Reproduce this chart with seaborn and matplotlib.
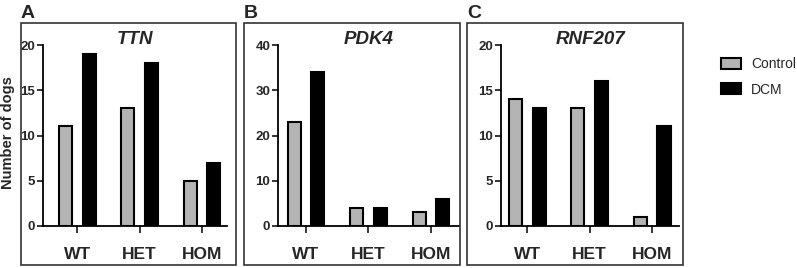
import matplotlib
matplotlib.use("Agg")
import matplotlib.pyplot as plt
import pandas as pd
import seaborn as sns
from matplotlib.patches import Rectangle

genotypes = ["WT", "HET", "HOM"]
groups = ["Control", "DCM"]
genes = ["TTN", "PDK4", "RNF207"]
panel_letters = ["A", "B", "C"]

ttn_control = [11, 13, 5]
ttn_dcm = [19, 18, 7]
pdk4_control = [23, 4, 3]
pdk4_dcm = [34, 4, 6]
rnf207_control = [14, 13, 1]
rnf207_dcm = [13, 16, 11]

y_max = [20, 40, 20]
y_step = [5, 10, 5]


def long_table(control, dcm):
    rows = []
    for g, c, d in zip(genotypes, control, dcm):
        rows.append({"genotype": g, "group": "Control", "count": c})
        rows.append({"genotype": g, "group": "DCM", "count": d})
    return pd.DataFrame(rows)


def main():
    sns.set_theme(style="white")
    plt.rcParams["font.family"] = ["Liberation Sans", "DejaVu Sans"]

    tables = [
        long_table(ttn_control, ttn_dcm),
        long_table(pdk4_control, pdk4_dcm),
        long_table(rnf207_control, rnf207_dcm),
    ]
    palette = {"Control": "#b4b4b4", "DCM": "#000000"}

    W, H = 797, 268
    fig = plt.figure(figsize=(W / 100, H / 100), dpi=100)

    # pixel layout: (axis left, axis right, xlim left, xlim right, box left, box right)
    layout = [
        (43, 227, -0.548, 2.40, 21, 236),
        (278, 459, -0.448, 2.45, 244, 460),
        (501, 679, -0.42, 2.43, 467, 683),
    ]
    ax_top, ax_bot = 45, 226

    for i, df in enumerate(tables):
        x0, x1, xl, xr, bl, br = layout[i]
        ax = fig.add_axes([x0 / W, 1 - ax_bot / H, (x1 - x0) / W, (ax_bot - ax_top) / H])
        sns.barplot(
            data=df,
            x="genotype",
            y="count",
            hue="group",
            order=genotypes,
            hue_order=groups,
            palette=palette,
            edgecolor="black",
            linewidth=1.5,
            width=0.76,
            gap=0.45,
            legend=(i == 2),
            ax=ax,
        )
        ax.set_xlim(xl, xr)
        ax.set_ylim(0, y_max[i])
        ax.set_yticks(range(0, y_max[i] + 1, y_step[i]))
        ax.set_xlabel("")
        ax.set_ylabel("")
        for s in ["top", "right"]:
            ax.spines[s].set_visible(False)
        for s in ["left", "bottom"]:
            ax.spines[s].set_linewidth(1.3)
            ax.spines[s].set_color("black")
        ax.tick_params(axis="y", direction="out", length=4, width=1.3, pad=1.5,
                       labelsize=9.5, left=True)
        ax.tick_params(axis="x", direction="out", length=5, width=1.3, pad=10,
                       labelsize=12.5, bottom=True)
        for lab in ax.get_yticklabels():
            lab.set_fontweight("bold")
        for lab in ax.get_xticklabels():
            lab.set_fontweight("bold")
        ax.set_title(genes[i], fontsize=13.5, fontweight="bold", style="italic", pad=1)
        ax.patch.set_alpha(0)

        fig.patches.append(Rectangle((bl / W, 1 - 265 / H), (br - bl) / W, (265 - 23) / H,
                                     transform=fig.transFigure, fill=False,
                                     edgecolor="#333333", linewidth=1.2))
        fig.text(bl / W, 1 - 5 / H, panel_letters[i], fontsize=14, fontweight="bold",
                 ha="left", va="top")

        if i == 2:
            handles, labels = ax.get_legend_handles_labels()
            ax.get_legend().remove()
            fig.legend(handles, labels, loc="upper left",
                       bbox_to_anchor=(708 / W, 1 - 45 / H), frameon=False,
                       fontsize=10, handlelength=1.5, handleheight=0.8,
                       handletextpad=0.7, labelspacing=0.8)

    fig.text(8 / W, 1 - 133 / H, "Number of dogs", rotation=90, fontsize=10.5,
             fontweight="bold", ha="center", va="center")

    fig.savefig("out.png", dpi=100)
    plt.close(fig)


if __name__ == "__main__":
    main()
